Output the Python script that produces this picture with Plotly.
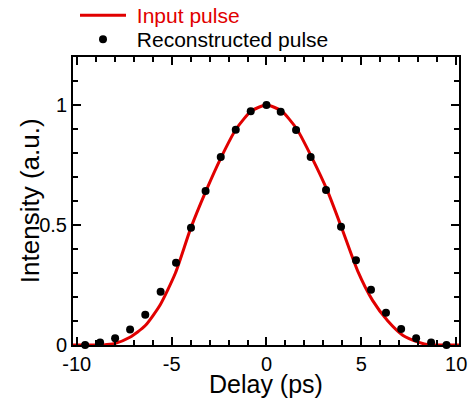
import plotly.graph_objects as go

# Input pulse (red line)
t_in = [-10.2, -9.0, -8.6, -8.0, -7.2, -6.4, -5.6, -4.8, -4.0, -3.2, -2.4, -1.6, -0.8, 0.0,
        0.8, 1.6, 2.4, 3.2, 4.0, 4.8, 5.6, 6.4, 7.2, 8.0, 8.6, 9.0, 10.15]
i_in = [0.0, 0.0, 0.0, 0.006, 0.032, 0.08, 0.168, 0.30, 0.485, 0.64, 0.78, 0.90, 0.975, 1.0,
        0.975, 0.90, 0.78, 0.645, 0.48, 0.31, 0.185, 0.10, 0.04, 0.012, 0.0, 0.0, 0.0]

# Reconstructed pulse (black dots)
t_rec = [-9.56, -8.77, -7.98, -7.19, -6.39, -5.58, -4.77, -3.98, -3.21, -2.41, -1.62, -0.83, 0.0,
         0.75, 1.56, 2.33, 3.14, 3.93, 4.72, 5.51, 6.30, 7.10, 7.89, 8.68, 9.49]
i_rec = [0.0, 0.01, 0.028, 0.065, 0.126, 0.222, 0.343, 0.489, 0.642, 0.783, 0.897, 0.974, 1.0,
         0.972, 0.896, 0.783, 0.646, 0.493, 0.353, 0.23, 0.134, 0.067, 0.028, 0.01, 0.0]

x_tickvals = [-10, -5, 0, 5, 10]
x_ticktext = ["-10", "-5", "0", "5", "10"]
y_tickvals = [0, 0.5, 1]
y_ticktext = ["0", "0.5", "1"]

RED = "rgb(225,0,0)"
FONT = "Arial, Liberation Sans, sans-serif"
GAP = "&nbsp;"

fig = go.Figure()
fig.add_trace(go.Scatter(
    x=t_in, y=i_in, mode="lines", line=dict(color=RED, width=3, shape="spline", smoothing=0.6),
    name=f"{GAP}<span style='color:{RED}'>Input pulse</span>", cliponaxis=False,
    legend="legend"))
fig.add_trace(go.Scatter(
    x=t_rec, y=i_rec, mode="markers", marker=dict(color="black", size=8),
    name=f"{GAP}Reconstructed pulse", cliponaxis=False, legend="legend2"))

axis_common = dict(
    showline=True, linecolor="black", linewidth=2, mirror="ticks",
    ticks="inside", ticklen=8, tickwidth=1.5, tickcolor="black",
    showgrid=False, zeroline=False,
    tickfont=dict(family=FONT, size=20, color="black"),
)

fig.update_xaxes(range=[-10.2, 10.15], tickvals=x_tickvals, ticktext=x_ticktext,
                 minor=dict(dtick=1, tick0=0, ticks="inside", ticklen=5, tickwidth=1.5,
                            tickcolor="black", showgrid=False),
                 **axis_common)
fig.update_yaxes(range=[0, 1.2], tickvals=y_tickvals, ticktext=y_ticktext,
                 minor=dict(dtick=0.1, tick0=0, ticks="inside", ticklen=5, tickwidth=1.5,
                            tickcolor="black", showgrid=False),
                 **axis_common)

fig.add_annotation(text="Delay (ps)", xref="paper", yref="paper", x=0.5, y=-0.134,
                   yanchor="middle", showarrow=False,
                   font=dict(family=FONT, size=25, color="black"))
fig.add_annotation(text="Intensity (a.u.)", xref="paper", yref="paper", x=-0.111, y=0.5,
                   xanchor="center", yanchor="middle", textangle=-90, showarrow=False,
                   font=dict(family=FONT, size=26, color="black"))

leg_common = dict(xref="paper", yref="paper", xanchor="left", yanchor="top",
                  bgcolor="rgba(0,0,0,0)", itemwidth=46,
                  font=dict(family=FONT, size=21, color="black"))

LEG_X = (75 - 73) / 386  # paper units

fig.update_layout(
    width=472, height=399,
    margin=dict(l=73, r=13, t=57, b=54, autoexpand=False),
    paper_bgcolor="white", plot_bgcolor="white",
    font=dict(family=FONT, color="black"),
    showlegend=True,
    legend=dict(x=LEG_X, y=1.215, **leg_common),
    legend2=dict(x=LEG_X, y=1.132, **leg_common),
)

fig.write_html("out.html")
